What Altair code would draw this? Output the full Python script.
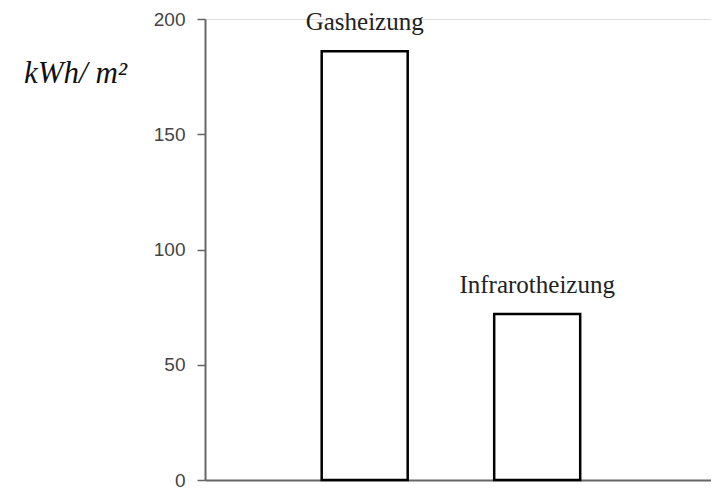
import altair as alt
import pandas as pd

categories = ["Gasheizung", "Infrarotheizung"]
values = [186, 72]
y_ticks = [0, 50, 100, 150, 200]

df = pd.DataFrame({"cat": categories, "val": values})

x = alt.X("cat:N", sort=categories, title=None,
          axis=alt.Axis(labels=False, ticks=False, domainColor="#666", domainWidth=2,
                        grid=False),
          scale=alt.Scale(paddingInner=0.5014, paddingOuter=0.7174, align=0.4715, round=False))
y = alt.Y("val:Q", scale=alt.Scale(domain=[0, 200], nice=False),
          axis=alt.Axis(values=y_ticks, title="kWh/ m²", titleAngle=0,
                        titleX=-130, titleY=63, titleAlign="center", titleBaseline="alphabetic",
                        titleFont="Liberation Serif", titleFontStyle="italic",
                        titleFontWeight="normal", titleFontSize=31, titleColor="#111",
                        labelFont="Liberation Sans", labelFontSize=19, labelColor="#444",
                        labelPadding=12, tickSize=8, tickColor="#666", tickWidth=1.5,
                        domainColor="#666", domainWidth=2, grid=False))

base = alt.Chart(df)
bars = base.mark_bar(fill="white", stroke="black", strokeWidth=2.5).encode(x=x, y=y)
labels = base.mark_text(font="Liberation Serif", fontSize=25, baseline="alphabetic", dy=-21,
                        color="#222").encode(x=x, y=y, text="cat:N")

chart = alt.layer(bars, labels).properties(
    width=506, height=461, autosize=alt.AutoSizeParams(type="none"),
    padding={"left": 197, "top": 11, "right": 0, "bottom": 11}
).configure_view(strokeWidth=0).configure(background="white")

chart.save("out.html", embed_options={"renderer": "svg", "actions": False})
